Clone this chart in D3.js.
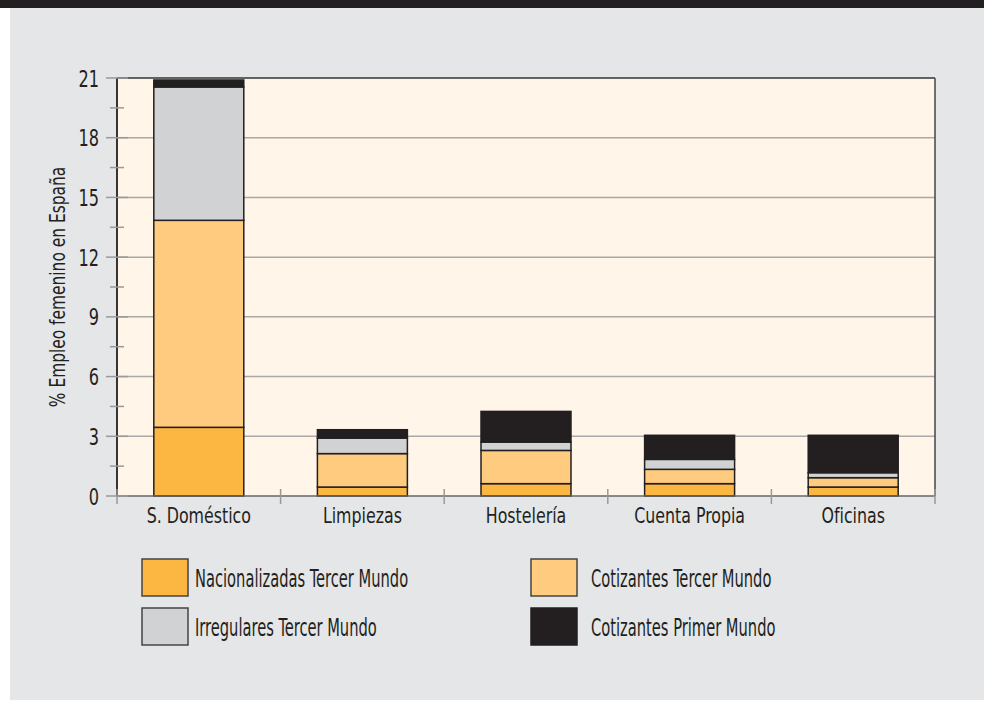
<!DOCTYPE html>
<html lang="es">
<head>
<meta charset="utf-8">
<title>Empleo femenino en España</title>
<script src="https://cdnjs.cloudflare.com/ajax/libs/d3/7.8.5/d3.min.js"></script>
<style>
  body { margin: 0; background: #fff; }
  text { font-family: "Liberation Sans Narrow", "DejaVu Sans Condensed", "Arial Narrow", sans-serif; fill: #231f20; }
</style>
</head>
<body>
<script>
// categories and stacked series (% of female employment in Spain)
var categories = ["S. Doméstico", "Limpiezas", "Hostelería", "Cuenta Propia", "Oficinas"];
var seriesNames = ["Nacionalizadas Tercer Mundo", "Cotizantes Tercer Mundo", "Irregulares Tercer Mundo", "Cotizantes Primer Mundo"];
var nacionalizadas = [3.45, 0.45, 0.62, 0.62, 0.45];
var cotizantesTM   = [10.4, 1.68, 1.67, 0.72, 0.47];
var irregulares    = [6.7, 0.78, 0.42, 0.50, 0.25];
var cotizantesPM   = [0.35, 0.42, 1.54, 1.21, 1.88];
var yTicks = [0, 3, 6, 9, 12, 15, 18, 21];
var yMinorTicks = [1.5, 4.5, 7.5, 10.5, 13.5, 16.5, 19.5];

var colors = ["#fbb742", "#fecb7f", "#d1d2d4", "#231f20"];

var W = 984, H = 703;
var pLeft = 117, pRight = 935, pTop = 78, pBottom = 496;

var svg = d3.select("body").append("svg")
  .attr("width", W)
  .attr("height", H);

// background: banner + grey panel
svg.append("rect").attr("x", 10).attr("y", 0).attr("width", W - 10).attr("height", 700).attr("fill", "#e5e6e8");
svg.append("rect").attr("x", 0).attr("y", 0).attr("width", W).attr("height", 8).attr("fill", "#231f20");

var x = d3.scaleBand().domain(categories).range([pLeft, pRight]).padding(0);
var y = d3.scaleLinear().domain([0, 21]).range([pBottom, pTop]);

// plot area
svg.append("rect")
  .attr("x", pLeft).attr("y", pTop)
  .attr("width", pRight - pLeft).attr("height", pBottom - pTop)
  .attr("fill", "#fff6e9");

// gridlines
svg.append("g").selectAll("line")
  .data(yTicks.slice(1, -1))
  .enter().append("line")
  .attr("x1", pLeft).attr("x2", pRight)
  .attr("y1", function(d) { return y(d); })
  .attr("y2", function(d) { return y(d); })
  .attr("stroke", "#a9a9a9")
  .attr("stroke-width", 1.5);

// stacked bars
var rows = categories.map(function(c, i) {
  return { cat: c, s0: nacionalizadas[i], s1: cotizantesTM[i], s2: irregulares[i], s3: cotizantesPM[i] };
});
var stack = d3.stack().keys(["s0", "s1", "s2", "s3"]);
var layers = stack(rows);
var barW = x.bandwidth() * 0.55;

svg.append("g").selectAll("g")
  .data(layers)
  .enter().append("g")
  .attr("fill", function(d, i) { return colors[i]; })
  .selectAll("rect")
  .data(function(d) { return d; })
  .enter().append("rect")
  .attr("x", function(d) { return x(d.data.cat) + (x.bandwidth() - barW) / 2; })
  .attr("y", function(d) { return y(d[1]); })
  .attr("width", barW)
  .attr("height", function(d) { return y(d[0]) - y(d[1]); })
  .attr("stroke", "#231f20")
  .attr("stroke-width", 1.5);

// frame: top + right dark, left axis black, bottom axis grey
svg.append("line").attr("x1", pLeft).attr("x2", pRight).attr("y1", pTop).attr("y2", pTop)
  .attr("stroke", "#333").attr("stroke-width", 1.5);
svg.append("line").attr("x1", pRight).attr("x2", pRight).attr("y1", pTop).attr("y2", pBottom)
  .attr("stroke", "#444").attr("stroke-width", 1.5);
svg.append("line").attr("x1", pLeft).attr("x2", pRight).attr("y1", pBottom).attr("y2", pBottom)
  .attr("stroke", "#666").attr("stroke-width", 1.5);
svg.append("line").attr("x1", pLeft).attr("x2", pLeft).attr("y1", pTop).attr("y2", pBottom)
  .attr("stroke", "#231f20").attr("stroke-width", 1.8);

// y ticks (cross the axis)
svg.append("g").selectAll("line")
  .data(yTicks)
  .enter().append("line")
  .attr("x1", pLeft - 11).attr("x2", pLeft + 11)
  .attr("y1", function(d) { return y(d); })
  .attr("y2", function(d) { return y(d); })
  .attr("stroke", "#999").attr("stroke-width", 1.5);
svg.append("g").selectAll("line")
  .data(yMinorTicks)
  .enter().append("line")
  .attr("x1", pLeft - 7).attr("x2", pLeft + 7)
  .attr("y1", function(d) { return y(d); })
  .attr("y2", function(d) { return y(d); })
  .attr("stroke", "#999").attr("stroke-width", 1.5);

// y tick labels
svg.append("g").selectAll("text")
  .data(yTicks)
  .enter().append("text")
  .attr("transform", function(d) { return "translate(99," + (y(d) + 8.5) + ") scale(0.78,1)"; })
  .attr("text-anchor", "end")
  .attr("font-size", "23px")
  .text(function(d) { return d; });

// x ticks at band boundaries
var xEdges = categories.map(function(c) { return x(c); }).concat([pRight]);
svg.append("g").selectAll("line")
  .data(xEdges)
  .enter().append("line")
  .attr("x1", function(d) { return d; })
  .attr("x2", function(d) { return d; })
  .attr("y1", pBottom - 7).attr("y2", pBottom + 8)
  .attr("stroke", "#999").attr("stroke-width", 1.5);

// x labels
svg.append("g").selectAll("text")
  .data(categories)
  .enter().append("text")
  .attr("transform", function(d) { return "translate(" + (x(d) + x.bandwidth() / 2) + ",523) scale(0.8,1)"; })
  .attr("text-anchor", "middle")
  .attr("font-size", "22px")
  .text(function(d) { return d; });

// y axis title
svg.append("text")
  .attr("transform", "translate(65," + ((pTop + pBottom) / 2) + ") rotate(-90) scale(0.78,1)")
  .attr("text-anchor", "middle")
  .attr("font-size", "22px")
  .text("% Empleo femenino en España");

// legend
var legendPos = [[142, 559], [531, 559], [142, 608], [531, 608]];
var legend = svg.append("g").selectAll("g")
  .data(seriesNames)
  .enter().append("g")
  .attr("transform", function(d, i) { return "translate(" + legendPos[i][0] + "," + legendPos[i][1] + ")"; });
legend.append("rect")
  .attr("width", 46).attr("height", 37)
  .attr("fill", function(d, i) { return colors[i]; })
  .attr("stroke", function(d, i) { return i === 3 ? "#231f20" : "#444"; })
  .attr("stroke-width", 1.5);
legend.append("text")
  .attr("transform", function(d, i) { return "translate(" + (i % 2 ? 60 : 53) + ",28) scale(0.68,1)"; })
  .attr("font-size", "24px")
  .text(function(d) { return d; });
</script>
</body>
</html>
